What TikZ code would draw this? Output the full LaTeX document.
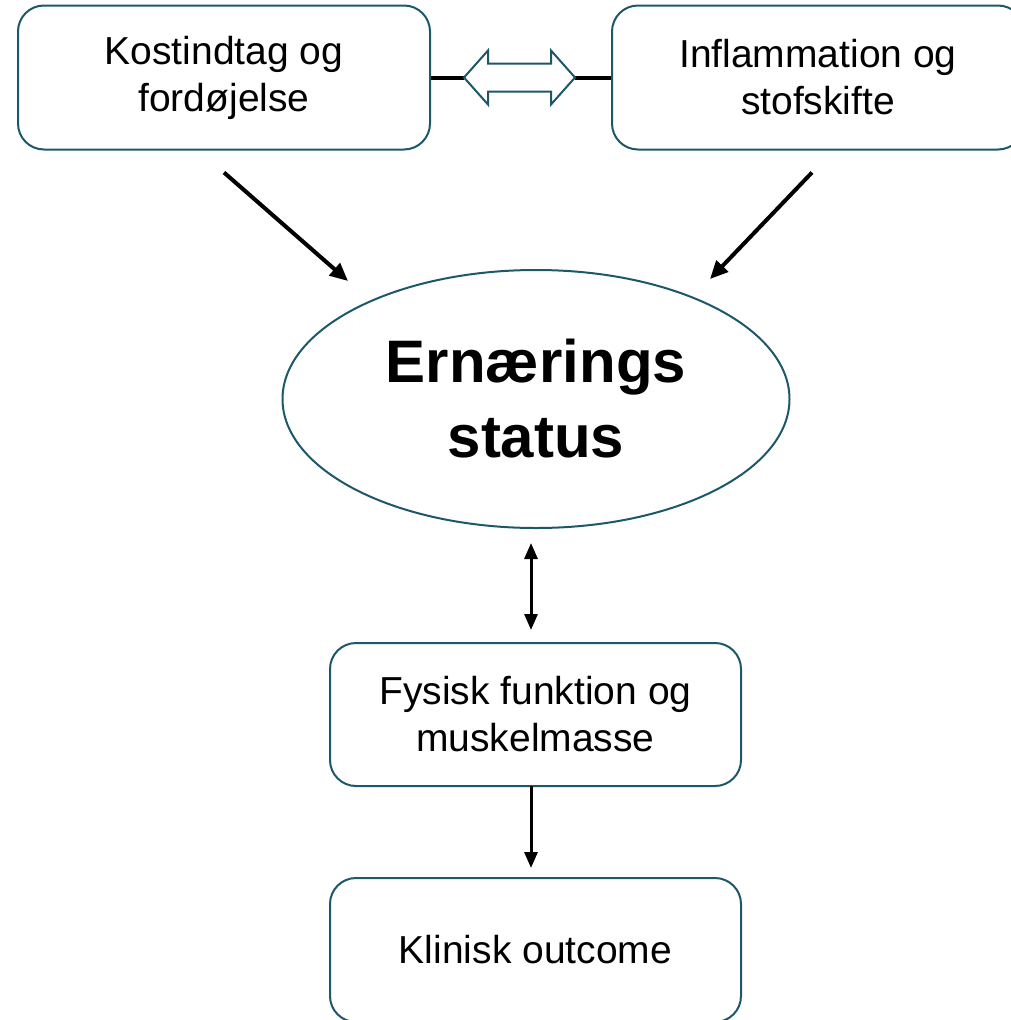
\documentclass[tikz,border=0pt]{standalone}
\usepackage{fontspec}
\setmainfont{Liberation Sans}
\usetikzlibrary{shapes.geometric,arrows.meta}
\definecolor{frame}{RGB}{28,88,106}
\begin{document}
\begin{tikzpicture}[x=1pt,y=-1pt,
  box/.style={draw=frame,line width=2pt,rounded corners=26pt,fill=white,
    minimum width=411pt,minimum height=144pt,align=center,
    font=\fontsize{39}{47}\selectfont},
  arr/.style={line width=4pt,-{Triangle[length=18pt,width=16pt]}},
  varr/.style={line width=3pt,{Triangle[length=16pt,width=13pt]}-{Triangle[length=16pt,width=13pt]}}]
\useasboundingbox (0,0) rectangle (1010,1020);

% top boxes (the right one runs past the page edge)
\node[box,minimum width=412pt] (kost) at (224,77.5) {Kostindtag og\\fordøjelse};
\node[box,minimum width=412pt] (infl) at (818,77.5) {Inflammation og\\stofskifte};

% hollow double arrow between the top boxes
\coordinate (hl) at (464,77.5);
\coordinate (hr) at (575,77.5);
\draw[line width=4pt] (kost.east) -- (hl);
\draw[line width=4pt] (hr) -- (infl.west);
\draw[draw=frame,line width=2pt,line join=miter,fill=white]
  (hl) -- ++(24,-27) -- ++(0,13) -- ++(63,0) -- ++(0,-13) -- (hr)
  -- ++(-24,27) -- ++(0,-13) -- ++(-63,0) -- ++(0,13) -- cycle;

% central ellipse
\node[draw=frame,line width=2pt,ellipse,minimum width=507pt,minimum height=258pt,
  align=center,font=\bfseries\fontsize{60}{75}\selectfont] (ern) at (536,399) {Ernærings\\status};

% lower boxes
\node[box,minimum height=143pt] (fys) at (535.5,714.5) {Fysisk funktion og\\muskelmasse};
\node[box] (klin) at (535.5,950) {Klinisk outcome};

% connectors
\coordinate (k0) at ([yshift=-22pt]kost.south);
\coordinate (k1) at (348,281);
\coordinate (i0) at ([xshift=-6pt,yshift=-22pt]infl.south);
\coordinate (i1) at (710,279);
\draw[arr] (k0) -- (k1);
\draw[arr] (i0) -- (i1);

\coordinate (e0) at (531,543);
\coordinate (e1) at (531,630);
\draw[varr] (e0) -- (e1);

\coordinate (f0) at (531,786);
\coordinate (f1) at (531,868);
\draw[line width=3pt,-{Triangle[length=16pt,width=13pt]}] (f0) -- (f1);
\end{tikzpicture}
\end{document}
